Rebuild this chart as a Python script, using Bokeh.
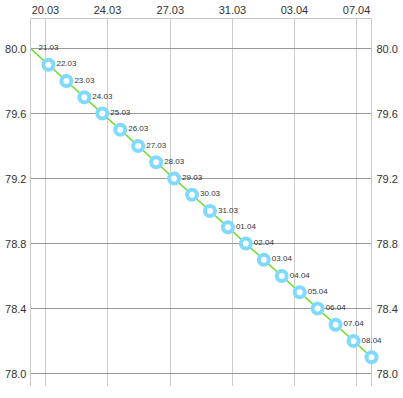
from datetime import datetime
from bokeh.plotting import figure
from bokeh.models import ColumnDataSource, LinearAxis, FixedTicker, DatetimeTickFormatter, Range1d, NumeralTickFormatter
from bokeh.embed import file_html
from bokeh.resources import INLINE
from bokeh.core.properties import value

dates = ["2020-03-20", "2020-03-21", "2020-03-22", "2020-03-23", "2020-03-24",
         "2020-03-25", "2020-03-26", "2020-03-27", "2020-03-28", "2020-03-29",
         "2020-03-30", "2020-03-31", "2020-04-01", "2020-04-02", "2020-04-03",
         "2020-04-04", "2020-04-05", "2020-04-06", "2020-04-07", "2020-04-08"]
values = [80.0, 79.9, 79.8, 79.7, 79.6, 79.5, 79.4, 79.3, 79.2, 79.1,
          79.0, 78.9, 78.8, 78.7, 78.6, 78.5, 78.4, 78.3, 78.2, 78.1]
point_labels = ["21.03", "22.03", "23.03", "24.03", "25.03", "26.03", "27.03",
                "28.03", "29.03", "30.03", "31.03", "01.04", "02.04", "03.04",
                "04.04", "05.04", "06.04", "07.04", "08.04", ""]
x_tick_times = ["2020-03-20 20:00", "2020-03-24 07:00", "2020-03-27 19:00",
                "2020-03-31 06:00", "2020-04-03 17:00", "2020-04-07 04:00"]
y_ticks = [78.0, 78.4, 78.8, 79.2, 79.6, 80.0]

xs = [datetime.strptime(d, "%Y-%m-%d") for d in dates]
xt = [datetime.strptime(t, "%Y-%m-%d %H:%M").timestamp() * 1000 for t in x_tick_times]
src = ColumnDataSource(dict(x=xs, y=values, lab=point_labels))
msrc = ColumnDataSource(dict(x=xs[1:], y=values[1:]))

p = figure(frame_width=341, frame_height=368, output_backend="svg", toolbar_location=None,
           x_axis_type="datetime", x_axis_location=None, y_axis_location=None,
           x_range=Range1d(xs[0], xs[-1]), y_range=Range1d(77.92, 80.185),
           min_border_left=30, min_border_right=30, min_border_top=18, min_border_bottom=0)
p.outline_line_color = None
p.background_fill_color = "white"

def style_axis(ax, standoff):
    ax.major_tick_out = 0
    ax.major_tick_in = 0
    ax.minor_tick_out = 0
    ax.minor_tick_in = 0
    ax.axis_line_color = "#c8c8c8"
    ax.major_label_text_font = "Liberation Sans"
    ax.major_label_text_font_size = "11px"
    ax.major_label_text_color = "#333333"
    ax.major_label_standoff = standoff

ax_top = LinearAxis(ticker=FixedTicker(ticks=xt),
                    formatter=DatetimeTickFormatter(hours="%d.%m", days="%d.%m", months="%d.%m"))
style_axis(ax_top, 5)
p.add_layout(ax_top, "above")
for side, so in [("left", 4), ("right", 5)]:
    ay = LinearAxis(ticker=FixedTicker(ticks=y_ticks), formatter=NumeralTickFormatter(format="0.0"))
    style_axis(ay, so)
    p.add_layout(ay, side)

p.xgrid.ticker = FixedTicker(ticks=xt)
p.ygrid.ticker = FixedTicker(ticks=y_ticks)
p.xgrid.grid_line_color = "#cccccc"
p.ygrid.grid_line_color = "#999999"

p.line("x", "y", source=src, line_color="#66dd22", line_width=1.5)
p.scatter("x", "y", source=msrc, size=10, fill_color="white", line_color="#80daff",
          line_width=4, level="overlay")
p.text("x", "y", text="lab", source=src, x_offset=8, y_offset=-1, text_baseline="middle",
       text_font=value("Liberation Sans"), text_font_size="8px", text_color="#333333",
       level="overlay")

open("out.html", "w").write(file_html(p, INLINE))
